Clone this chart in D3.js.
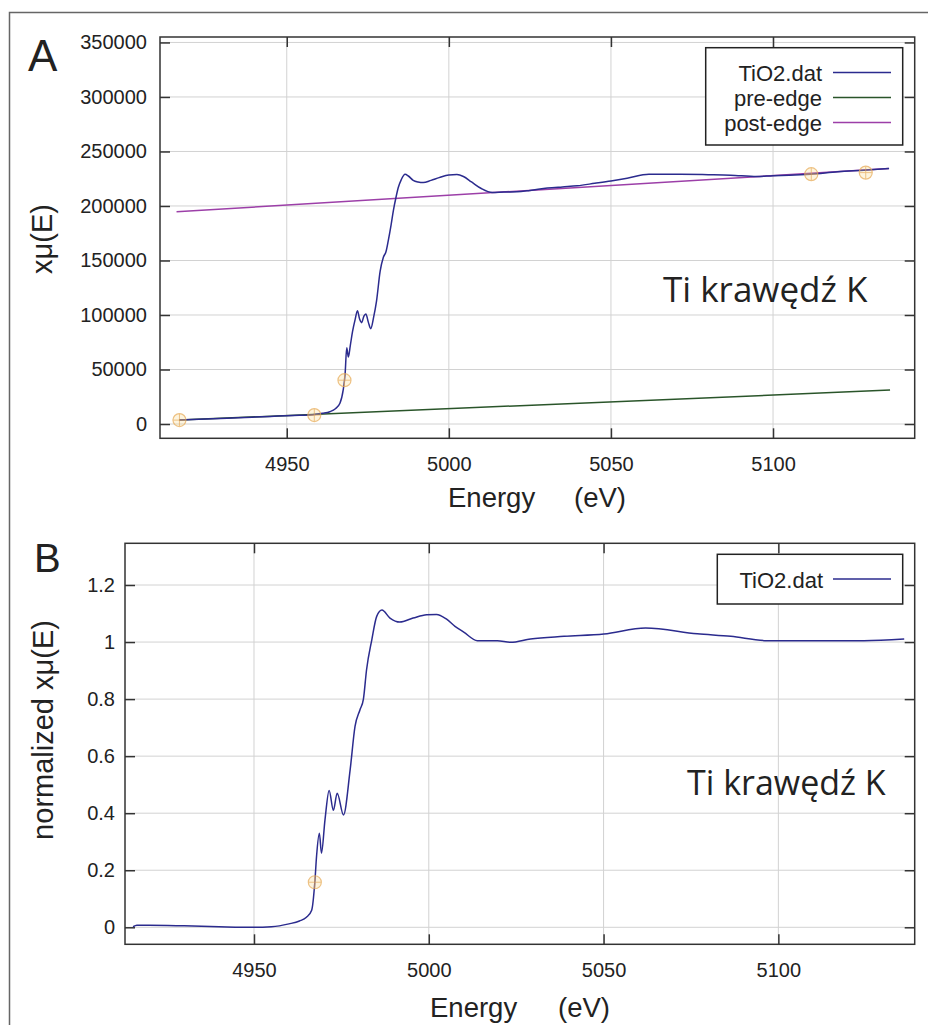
<!DOCTYPE html>
<html><head><meta charset="utf-8">
<script src="https://cdn.jsdelivr.net/npm/d3@7"></script>
<style>
html,body{margin:0;padding:0;background:#fff;}
svg{display:block;}
text{font-family:"Liberation Sans",Arial,sans-serif;fill:#222;}
</style></head>
<body>
<svg id="chart" width="928" height="1025"></svg>
<script>
// ---------- DATA ----------
// Panel A: raw absorption x mu(E)
const energyA = [4916.9,4925,4935,4945,4952,4958,4961,4963.3,4965,4966.4,4967.4,4968.0,4968.5,4969.0,4969.6,4970.3,4971.1,4971.8,4972.5,4973.1,4973.8,4974.4,4975.2,4975.9,4976.8,4977.7,4978.8,4979.8,4980.6,4981.3,4982.2,4982.9,4983.7,4984.4,4985.3,4986.5,4987.5,4989.0,4990.5,4992.1,4994.5,4997,5000,5002.5,5004.5,5007,5010,5013.4,5017,5021,5025,5030.4,5035,5039.6,5045,5050,5055,5061.7,5071.5,5080,5086.9,5095,5100,5105,5111.6,5120,5128,5135.8];
const muA = [3700,4600,5800,7000,7800,8600,9800,11300,14000,19000,31000,46000,70000,61500,72000,85000,96000,104000,96000,93000,99000,101000,93000,87500,98000,113000,140000,153000,158000,168000,183000,196000,208000,217000,224000,229000,227500,223500,222000,221500,223500,226000,228500,228800,227000,222000,216000,212300,212800,213000,214200,216400,217500,218500,220800,223000,225500,229200,229000,228700,228300,227000,227800,228200,229200,231400,232800,234300];
const preEdgeE = [4916.8, 5136.1];
const preEdgeMu = [3650, 31100];
const postEdgeE = [4916.0, 5135.7];
const postEdgeMu = [194700, 234300];
const markersAE = [4916.9, 4958.5, 4967.8, 5111.8, 5128.6];
const markersAMu = [3600, 8200, 40200, 229150, 230600];

// Panel B: normalized x mu(E)
const energyB = [4915.4,4916.5,4920,4930,4940,4950,4955,4960,4963,4965,4966.5,4967.4,4967.9,4968.7,4969.3,4970.3,4971.5,4972.7,4973.8,4975.6,4977.5,4978.9,4980.3,4981.3,4982.2,4983.7,4985.1,4986.6,4988.9,4991.7,4995.5,4999.4,5002.2,5005.1,5007.5,5010,5013.9,5019.6,5023.4,5029.1,5038.7,5050.1,5062,5076.8,5086.4,5096.8,5105.4,5124.5,5136];
const normB = [0.002,0.007,0.007,0.005,0.002,0.0,0.002,0.012,0.022,0.035,0.06,0.158,0.25,0.33,0.26,0.376,0.48,0.41,0.47,0.394,0.552,0.704,0.762,0.80,0.903,1.008,1.09,1.112,1.084,1.070,1.084,1.096,1.097,1.08,1.055,1.035,1.005,1.005,0.999,1.011,1.02,1.028,1.049,1.029,1.02,1.005,1.005,1.005,1.011];
const markersBE = [4967.4];
const markersBN = [0.158];

// Ticks
const xTicks = [4950, 5000, 5050, 5100];
const yTicksA = [0, 50000, 100000, 150000, 200000, 250000, 300000, 350000];
const yTicksB = [0, 0.2, 0.4, 0.6, 0.8, 1, 1.2];
const yTickLabelsB = ["0", "0.2", "0.4", "0.6", "0.8", "1", "1.2"];

// ---------- STYLE ----------
const C_DATA = "#2b2b8e", C_PRE = "#2a552a", C_POST = "#9c3fa8";
const C_GRID = "#d2d2d2", C_AXIS = "#333";

const svg = d3.select("#chart");

// outer frame
svg.append("path").attr("d","M9.5,1025 V12.5 H928").attr("fill","none").attr("stroke","#666").attr("stroke-width",1.5);

function panel(cfg){
  const {l,t,r,b,xDom,yDom,yTicks,yFmt,yPad} = cfg;
  const x = d3.scaleLinear().domain(xDom).range([l,r]);
  const y = d3.scaleLinear().domain(yDom).range([b,t]);
  const g = svg.append("g");
  // grid
  g.append("g").selectAll("line").data(xTicks).join("line")
    .attr("x1",d=>x(d)).attr("x2",d=>x(d)).attr("y1",t).attr("y2",b)
    .attr("stroke",C_GRID).attr("stroke-width",1);
  g.append("g").selectAll("line").data(yTicks).join("line")
    .attr("y1",d=>y(d)).attr("y2",d=>y(d)).attr("x1",l).attr("x2",r)
    .attr("stroke",C_GRID).attr("stroke-width",1);
  // axes
  const ax = [
    [d3.axisLeft(y).tickValues(yTicks).tickFormat(yFmt).tickSizeInner(-10).tickSizeOuter(0).tickPadding(yPad), `translate(${l},0)`],
    [d3.axisRight(y).tickValues(yTicks).tickFormat("").tickSizeInner(-10).tickSizeOuter(0), `translate(${r},0)`],
    [d3.axisBottom(x).tickValues(xTicks).tickFormat(d3.format("d")).tickSizeInner(-10).tickSizeOuter(0).tickPadding(19), `translate(0,${b})`],
    [d3.axisTop(x).tickValues(xTicks).tickFormat("").tickSizeInner(-10).tickSizeOuter(0), `translate(0,${t})`]
  ];
  ax.forEach(([a,tr])=>{
    const ag = g.append("g").attr("transform",tr).call(a);
    ag.select(".domain").remove();
    ag.selectAll(".tick line").attr("stroke",C_AXIS).attr("stroke-width",1.5);
    ag.selectAll(".tick text").attr("font-size",20).attr("fill","#2a2a2a")
      .attr("font-family","'Liberation Sans',Arial,sans-serif");
  });
  // frame
  g.append("rect").attr("x",l).attr("y",t).attr("width",r-l).attr("height",b-t)
    .attr("fill","none").attr("stroke",C_AXIS).attr("stroke-width",1.5);
  return {x,y,g};
}

function drawLine(p, xs, ys, color, curve){
  const pts = xs.map((e,i)=>[e,ys[i]]);
  p.g.append("path").datum(pts)
    .attr("d", d3.line().x(d=>p.x(d[0])).y(d=>p.y(d[1])).curve(curve||d3.curveLinear))
    .attr("fill","none").attr("stroke",color).attr("stroke-width",1.5).attr("stroke-linejoin","round");
}
function drawMarkers(p, xs, ys){
  xs.forEach((e,i)=>{
    const cx = p.x(e), cy = p.y(ys[i]);
    const mg = p.g.append("g").attr("opacity",0.75);
    mg.append("circle").attr("cx",cx).attr("cy",cy).attr("r",6.5)
      .attr("fill","rgba(250,215,130,0.35)").attr("stroke","#e8ad5a").attr("stroke-width",1.2);
    mg.append("line").attr("x1",cx-6.5).attr("x2",cx+6.5).attr("y1",cy).attr("y2",cy).attr("stroke","#e8ad5a").attr("stroke-width",1);
    mg.append("line").attr("x1",cx).attr("x2",cx).attr("y1",cy-6.5).attr("y2",cy+6.5).attr("stroke","#e8ad5a").attr("stroke-width",1);
  });
}
function legend(p, x0, y0, x1, y1, items, textRight, lineX0, lineX1, firstBase, pitch){
  p.g.append("rect").attr("x",x0).attr("y",y0).attr("width",x1-x0).attr("height",y1-y0)
    .attr("fill","#fff").attr("stroke","#222").attr("stroke-width",1.5);
  items.forEach((it,i)=>{
    const yb = firstBase + i*pitch;
    p.g.append("text").attr("x",textRight).attr("y",yb).attr("text-anchor","end")
      .attr("font-size",22).text(it[0]);
    p.g.append("line").attr("x1",lineX0).attr("x2",lineX1).attr("y1",yb-8.5).attr("y2",yb-8.5)
      .attr("stroke",it[1]).attr("stroke-width",1.5);
  });
}

// ---------- PANEL A ----------
const A = panel({l:160,t:37,r:914.7,b:438.3,xDom:[4910.9,5143.7],yDom:[-13100,355000],
  yTicks:yTicksA, yFmt:d3.format("d"), yPad:13});
drawLine(A, preEdgeE, preEdgeMu, C_PRE);
drawLine(A, postEdgeE, postEdgeMu, C_POST);
drawLine(A, energyA, muA, C_DATA, d3.curveMonotoneX);
drawMarkers(A, markersAE, markersAMu);
legend(A, 705.7, 47.7, 902.7, 145, [["TiO2.dat",C_DATA],["pre-edge",C_PRE],["post-edge",C_POST]], 822, 833, 891, 81, 25);
svg.append("text").attr("x",663).attr("y",302)
  .attr("font-size",35).style("font-family","'Open Sans',sans-serif").text("Ti krawędź K");
svg.append("text").attr("x",28).attr("y",71).attr("font-size",44).text("A");
svg.append("text").attr("transform","translate(52,239) rotate(-90)").attr("text-anchor","middle")
  .attr("font-size",29).text("xμ(E)");
const lblA = svg.append("text").attr("x",448).attr("y",507).attr("font-size",27.5);
lblA.append("tspan").text("Energy");
lblA.append("tspan").attr("x",574).text("(eV)");

// ---------- PANEL B ----------
const B = panel({l:125,t:543.3,r:914.7,b:944.3,xDom:[4913.1,5139.0],yDom:[-0.0596,1.3462],
  yTicks:yTicksB, yFmt:(d,i)=>yTickLabelsB[i], yPad:10});
drawLine(B, energyB, normB, C_DATA, d3.curveMonotoneX);
drawMarkers(B, markersBE, markersBN);
legend(B, 717.3, 554.3, 902.7, 604, [["TiO2.dat",C_DATA]], 823, 833, 891, 587.5, 25);
svg.append("text").attr("x",687).attr("y",795).style("font-family","'Open Sans',sans-serif")
  .attr("font-size",34).text("Ti krawędź K");
svg.append("text").attr("x",34).attr("y",572).attr("font-size",40).text("B");
svg.append("text").attr("transform","translate(53,730) rotate(-90)").attr("text-anchor","middle")
  .attr("font-size",29).text("normalized xμ(E)");
const lblB = svg.append("text").attr("x",430).attr("y",1017).attr("font-size",27.5);
lblB.append("tspan").text("Energy");
lblB.append("tspan").attr("x",558).text("(eV)");
</script>
</body></html>
